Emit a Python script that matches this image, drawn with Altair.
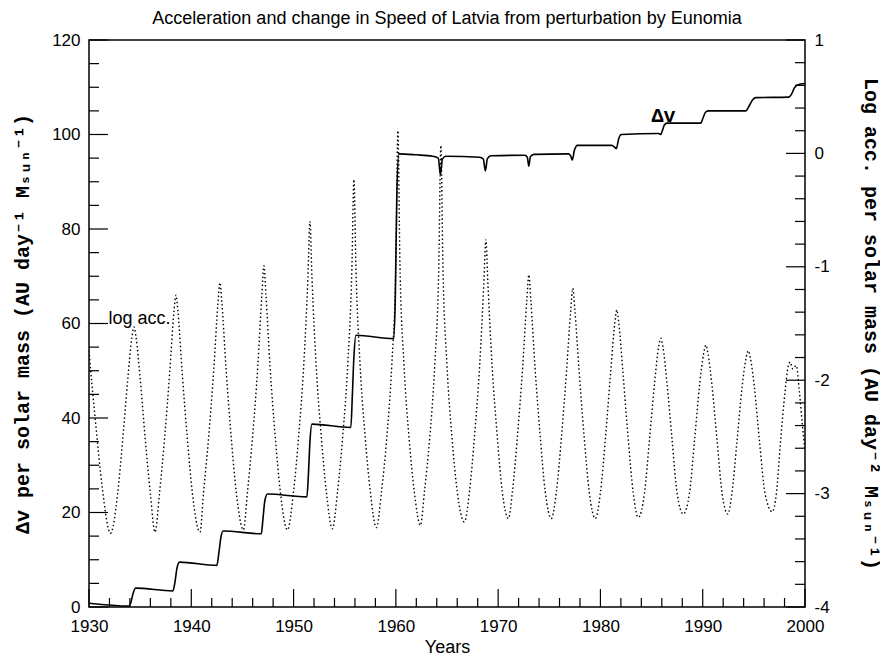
import altair as alt
import pandas as pd

# ---------------- data ----------------
years_dv = [
    1930.0, 1933.9, 1934.1, 1934.3, 1934.55,
    1938.2, 1938.4, 1938.6, 1938.85,
    1942.5, 1942.7, 1942.9, 1943.1,
    1946.85, 1947.0, 1947.2, 1947.45,
    1951.3, 1951.45, 1951.6, 1951.8,
    1955.6, 1955.75, 1955.9, 1956.1,
    1959.8, 1959.95, 1960.1, 1960.3,
    1962.0, 1963.6, 1964.15, 1964.35, 1964.55, 1964.9,
    1968.2, 1968.55, 1968.75, 1968.95, 1969.3,
    1972.6, 1972.85, 1973.0, 1973.15, 1973.5,
    1976.9, 1977.1, 1977.25, 1977.45, 1977.75,
    1981.1, 1981.4, 1981.55, 1981.8, 1982.05,
    1985.7, 1985.9, 1986.05, 1986.25, 1986.5,
    1989.8, 1990.05, 1990.3, 1990.6,
    1994.2, 1994.6, 1994.9, 1995.2,
    1998.4, 1998.7, 1998.95, 1999.25, 2000.0,
]
dv = [
    0.8, 0.2, 1.0, 2.8, 4.0,
    3.4, 5.2, 8.2, 9.5,
    8.8, 11.5, 14.8, 16.1,
    15.5, 18.5, 22.6, 23.9,
    23.3, 28.0, 35.0, 38.7,
    38.0, 45.0, 53.0, 57.5,
    56.8, 66.0, 88.0, 95.9,
    95.7, 95.4, 95.0, 91.5, 94.8, 95.4,
    95.2, 94.8, 92.3, 94.9, 95.5,
    95.6, 95.2, 93.3, 95.3, 95.8,
    95.9, 95.4, 94.6, 96.6, 97.7,
    97.7, 97.3, 97.0, 99.2, 100.0,
    100.2, 100.0, 100.8, 102.0, 102.4,
    102.4, 103.6, 104.8, 105.0,
    105.0, 106.3, 107.4, 107.8,
    107.9, 108.6, 109.8, 110.5, 110.8,
]

years_acc = [
    1930.0, 1930.3, 1930.65, 1931.3, 1932.1,
    1932.8, 1933.3, 1933.8, 1934.2, 1934.4, 1934.6, 1935.0, 1935.5, 1936.0, 1936.45,
    1936.9, 1937.4, 1937.9, 1938.3, 1938.5, 1938.7, 1939.1, 1939.6, 1940.1, 1940.85,
    1941.2, 1941.7, 1942.2, 1942.6, 1942.8, 1943.0, 1943.4, 1943.9, 1944.4, 1945.1,
    1945.5, 1946.0, 1946.5, 1946.9, 1947.1, 1947.3, 1947.7, 1948.2, 1948.7, 1949.4,
    1950.0, 1950.5, 1951.0, 1951.4, 1951.6, 1951.8, 1952.2, 1952.7, 1953.2, 1953.8,
    1954.3, 1954.8, 1955.3, 1955.7, 1955.9, 1956.1, 1956.5, 1957.0, 1957.5, 1958.1,
    1958.6, 1959.1, 1959.6, 1960.0, 1960.2, 1960.4, 1960.8, 1961.3, 1961.8, 1962.4,
    1962.8, 1963.3, 1963.8, 1964.2, 1964.4, 1964.6, 1965.0, 1965.5, 1966.0, 1966.7,
    1967.2, 1967.7, 1968.2, 1968.6, 1968.8, 1969.0, 1969.4, 1969.9, 1970.4, 1971.0,
    1971.4, 1971.9, 1972.4, 1972.8, 1973.0, 1973.2, 1973.6, 1974.1, 1974.6, 1975.2,
    1975.7, 1976.2, 1976.7, 1977.1, 1977.3, 1977.5, 1977.9, 1978.4, 1978.9, 1979.5,
    1980.0, 1980.5, 1981.0, 1981.4, 1981.6, 1981.8, 1982.2, 1982.7, 1983.2, 1983.7,
    1984.3, 1984.8, 1985.3, 1985.7, 1985.9, 1986.1, 1986.5, 1987.0, 1987.5, 1988.1,
    1988.7, 1989.2, 1989.7, 1990.1, 1990.3, 1990.5, 1990.9, 1991.4, 1991.9, 1992.45,
    1992.85, 1993.35, 1993.85, 1994.25, 1994.45, 1994.65, 1995.05, 1995.55, 1996.1, 1996.8,
    1997.2, 1997.6, 1998.05, 1998.35, 1998.55, 1998.8, 1999.15, 1999.45, 1999.75, 2000.0,
]
log_acc = [
    -1.74, -2.05, -2.38, -2.95, -3.35,
    -3.00, -2.52, -1.98, -1.62, -1.53, -1.62, -1.98, -2.52, -3.00, -3.34,
    -2.99, -2.50, -1.92, -1.40, -1.25, -1.40, -1.92, -2.50, -2.99, -3.34,
    -2.99, -2.50, -1.90, -1.33, -1.14, -1.33, -1.90, -2.50, -2.99, -3.32,
    -2.98, -2.49, -1.88, -1.25, -0.99, -1.25, -1.88, -2.49, -2.98, -3.32,
    -2.98, -2.49, -1.86, -1.10, -0.60, -1.10, -1.86, -2.49, -2.98, -3.31,
    -2.98, -2.50, -1.86, -1.02, -0.23, -1.02, -1.86, -2.50, -2.98, -3.30,
    -2.98, -2.52, -1.87, -0.98, 0.20, -0.98, -1.87, -2.52, -2.98, -3.28,
    -2.98, -2.52, -1.87, -0.99, 0.07, -0.99, -1.87, -2.52, -2.98, -3.25,
    -2.98, -2.48, -1.86, -1.15, -0.76, -1.15, -1.86, -2.48, -2.98, -3.22,
    -2.98, -2.48, -1.88, -1.30, -1.07, -1.30, -1.88, -2.48, -2.98, -3.22,
    -2.98, -2.49, -1.90, -1.38, -1.19, -1.38, -1.90, -2.49, -2.98, -3.22,
    -2.99, -2.50, -1.93, -1.50, -1.38, -1.50, -1.93, -2.50, -2.99, -3.21,
    -3.00, -2.52, -2.02, -1.70, -1.63, -1.70, -2.02, -2.52, -3.00, -3.18,
    -3.00, -2.53, -2.04, -1.76, -1.69, -1.76, -2.04, -2.53, -3.00, -3.18,
    -3.00, -2.54, -2.06, -1.80, -1.74, -1.80, -2.06, -2.54, -3.00, -3.16,
    -3.00, -2.55, -2.10, -1.88, -1.84, -1.90, -1.87, -2.10, -2.40, -2.62,
]

# tick positions / labels
x_major = [1930, 1940, 1950, 1960, 1970, 1980, 1990, 2000]
x_minor = [1932, 1934, 1936, 1938, 1942, 1944, 1946, 1948, 1952, 1954, 1956, 1958,
           1962, 1964, 1966, 1968, 1972, 1974, 1976, 1978, 1982, 1984, 1986, 1988,
           1992, 1994, 1996, 1998]
left_major = [0, 20, 40, 60, 80, 100, 120]
left_minor = [5, 10, 15, 25, 30, 35, 45, 50, 55, 65, 70, 75, 85, 90, 95, 105, 110, 115]
right_major = [-4, -3, -2, -1, 0, 1]
right_minor = [-3.8, -3.6, -3.4, -3.2, -2.8, -2.6, -2.4, -2.2, -1.8, -1.6, -1.4, -1.2,
               -0.8, -0.6, -0.4, -0.2, 0.2, 0.4, 0.6, 0.8]

# annotation texts
label_left = ["log acc."]
label_left_year = [1931.9]
label_left_val = [60.0]
label_dv = ["Δv"]
label_dv_year = [1985.0]
label_dv_val = [102.6]

TITLE = "Acceleration and change in Speed of Latvia from perturbation by Eunomia"
LEFT_TITLE = "Δv per solar mass (AU day⁻¹ Mₛᵤₙ⁻¹)"
RIGHT_TITLE = "Log acc. per solar mass (AU day⁻² Mₛᵤₙ⁻¹)"

# ---------------- styling / layout ----------------
SANS = "Liberation Sans, Arial, Helvetica, sans-serif"
MONO = "Liberation Mono, DejaVu Sans Mono, monospace"
W, H = 716, 567

xscale = alt.Scale(domain=[1930, 2000], nice=False, zero=False)
ylscale = alt.Scale(domain=[0, 120], nice=False, zero=False)
yrscale = alt.Scale(domain=[-4, 1], nice=False, zero=False)

dv_df = pd.DataFrame({"year": years_dv, "dv": dv})
acc_df = pd.DataFrame({"year": years_acc, "acc": log_acc})

x_axis = alt.Axis(values=x_major, format="d", title="Years", ticks=False, domain=False,
                  grid=False, labelFont=SANS, labelFontSize=17, labelColor="black",
                  labelPadding=11, labelFlush=False, titleFont=SANS, titleFontSize=18,
                  titleFontWeight="normal", titleColor="black", titlePadding=4)
left_axis = alt.Axis(values=left_major, format="d", title=LEFT_TITLE, ticks=False,
                     domain=False, grid=False, labelFont=SANS, labelFontSize=17,
                     labelColor="black", labelPadding=9, labelFlush=False,
                     titleFont=MONO, titleFontSize=20, titleFontWeight="bold",
                     titleColor="black", titleX=-67, titleY=H / 2, titleAngle=270,
                     titleBaseline="middle", titleAlign="center")
right_axis = alt.Axis(orient="right", values=right_major, labelExpr="'' + datum.value",
                      title=RIGHT_TITLE, ticks=False, domain=False, grid=False,
                      labelFont=SANS, labelFontSize=17, labelColor="black",
                      labelPadding=9, labelFlush=False, titleFont=MONO, titleFontSize=20,
                      titleFontWeight="bold", titleColor="black", titleX=65,
                      titleY=H / 2, titleAngle=90, titleBaseline="middle",
                      titleAlign="center")

XE = alt.X("year:Q", scale=xscale, axis=x_axis, title="Years")


def yl(field):
    return alt.Y(f"{field}:Q", scale=ylscale, axis=left_axis, title=LEFT_TITLE)


def yr(field):
    return alt.Y(f"{field}:Q", scale=yrscale, axis=right_axis, title=RIGHT_TITLE)


dv_line = alt.Chart(dv_df).mark_line(color="black", strokeWidth=1.6,
                                     interpolate="monotone", clip=True).encode(
    x=XE, y=yl("dv"))


def rules_y(values, ych, x0, x1):
    return alt.Chart(pd.DataFrame({"dv": values, "acc": values})).mark_rule(
        color="black", strokeWidth=1.2).encode(
        y=ych, x=alt.value(x0), x2=alt.value(x1))


def rules_x(values, length):
    return alt.Chart(pd.DataFrame({"year": values})).mark_rule(
        color="black", strokeWidth=1.2).encode(
        x=XE, y=alt.value(H), y2=alt.value(H - length))


log_text = alt.Chart(pd.DataFrame({"year": label_left_year, "dv": label_left_val,
                                   "t": label_left})).mark_text(
    align="left", baseline="alphabetic", font=SANS, fontSize=18, color="black").encode(
    x=XE, y=yl("dv"), text="t:N")

dv_text = alt.Chart(pd.DataFrame({"year": label_dv_year, "dv": label_dv_val,
                                  "t": label_dv})).mark_text(
    align="left", baseline="alphabetic", font=MONO, fontSize=20, fontWeight="bold",
    color="black").encode(
    x=XE, y=yl("dv"), text="t:N")

left_layer = alt.layer(
    dv_line,
    rules_y(left_major, yl("dv"), 0, 19),
    rules_y(left_minor, yl("dv"), 0, 10),
    rules_x(x_major, 18),
    rules_x(x_minor, 9),
    log_text,
    dv_text,
)

acc_line = alt.Chart(acc_df).mark_line(color="black", strokeWidth=1.4,
                                       strokeDash=[1.5, 2.5], interpolate="monotone",
                                       clip=True).encode(
    x=XE, y=yr("acc"))

right_layer = alt.layer(
    acc_line,
    rules_y(right_major, yr("acc"), W - 19, W),
    rules_y(right_minor, yr("acc"), W - 10, W),
)

chart = alt.layer(left_layer, right_layer).resolve_scale(y="independent").properties(
    width=W, height=H,
    title=alt.TitleParams(TITLE, font=SANS, fontSize=18, fontWeight="normal",
                          color="black", anchor="middle", offset=3),
    padding={"left": 81, "top": 32, "right": 75, "bottom": 54},
    autosize=alt.AutoSizeParams(type="none"),
    background="white",
).configure_view(stroke="black", strokeWidth=1.5)

chart.save("out.html", embed_options={"renderer": "svg", "actions": False})
